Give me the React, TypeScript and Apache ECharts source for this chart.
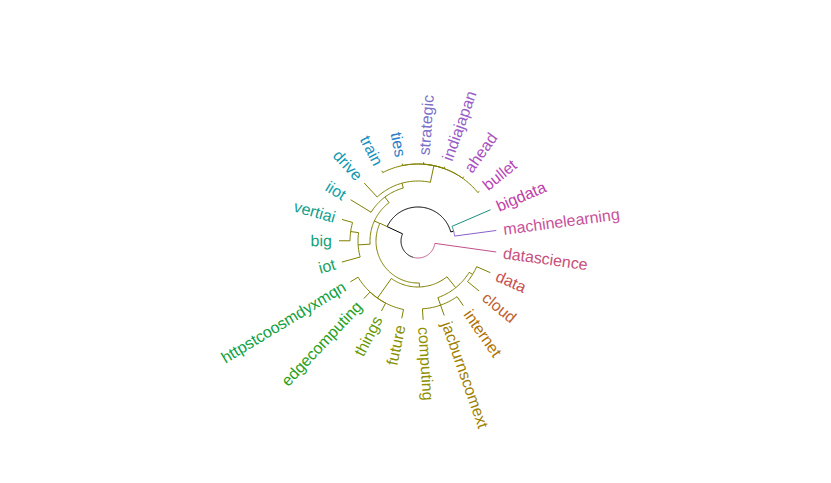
import { useEffect, useRef } from 'react';
import * as echarts from 'echarts';

// leaves, counter-clockwise from the right
const leaves = ['datascience', 'machinelearning', 'bigdata', 'bullet', 'ahead', 'indiajapan', 'strategic', 'ties', 'train', 'drive', 'iiot', 'vertiai', 'big', 'iot', 'httpstcoosmdyxmqn', 'edgecomputing', 'things', 'future', 'computing', 'jacburnscomext', 'internet', 'cloud', 'data'];
const leafColors = ['#c8507a', '#c8509a', '#c040a8', '#b844b8', '#a850c0', '#9a5ec8', '#7a70c8', '#2a80c8', '#1890c0', '#0898b0', '#08a0a8', '#10a090', '#18a078', '#20a060', '#10a040', '#28a020', '#6a9a00', '#8a9000', '#909000', '#a08000', '#b07000', '#c06030', '#c85050'];
const leafParents = ['root', 'MLB', 'MLB', 'Top', 'Top', 'Top', 'Top', 'Top', 'Top', 'A1', 'A2', 'VB', 'VB', 'Left', 'B1', 'B1', 'B1', 'B1', 'C1', 'C1', 'C1', 'C2', 'C2'];

const innerNodes = ['root', 'X', 'MLB', 'O', 'A', 'A2', 'A1', 'Top', 'Left', 'VB', 'B', 'B1', 'B2', 'C1', 'C2'];
const innerParents = [null, 'root', 'X', 'X', 'O', 'A', 'A2', 'A1', 'A', 'Left', 'O', 'B', 'B', 'B2', 'B2'];
const innerRadius = [17, 34, 37, 42, 48, 55, 60, 77, 60, 68, 46, 70, 60, 68, 64];
// fixed angles for a few inner nodes (null = mean of children)
const innerAngles = [null, 155, null, 155, null, null, null, null, null, null, null, null, null, null, null];

const edgeColors: Record<string, string> = {
  X: '#000000', MLB: '#000000', machinelearning: '#8a60c8', bigdata: '#1a9080', datascience: '#c0508a',
};
const OLIVE = '#808000';
const TIP_R = 79;
const LABEL_R = 86;
const START_ANGLE = -8;

type Node = { name: string; parent: string | null; r: number; angle: number; fixed: boolean; children: string[] };

function buildTree() {
  const nodes: Record<string, Node> = {};
  innerNodes.forEach((n, i) => (nodes[n] = { name: n, parent: innerParents[i], r: innerRadius[i], angle: innerAngles[i] ?? 0, fixed: innerAngles[i] != null, children: [] }));
  const step = 360 / leaves.length;
  // datascience sits just below the horizontal, reached through the bottom of the root arc
  leaves.forEach((n, i) => (nodes[n] = { name: n, parent: leafParents[i], r: TIP_R, angle: i === 0 ? START_ANGLE + 360 : START_ANGLE + step * i, fixed: true, children: [] }));
  Object.values(nodes).forEach((n) => n.parent && nodes[n.parent].children.push(n.name));
  const setAngle = (name: string): number => {
    const n = nodes[name];
    const a = n.children.map(setAngle);
    if (!n.fixed && a.length) n.angle = a.reduce((s, v) => s + v, 0) / a.length;
    return n.angle;
  };
  setAngle('root');
  return nodes;
}

export default function App() {
  const ref = useRef<HTMLDivElement>(null);

  useEffect(() => {
    document.body.style.margin = '0';
    if (!ref.current) return;
    const chart = echarts.init(ref.current, undefined, { renderer: 'svg' });
    const nodes = buildTree();
    const edges = Object.values(nodes).filter((n) => n.parent);
    const norm = (a: number) => ((a % 360) + 360) % 360;

    chart.setOption({
      animation: false,
      backgroundColor: '#ffffff',
      polar: { center: [418, 241], radius: 100 },
      radiusAxis: { min: 0, max: 100, show: false },
      angleAxis: { min: 0, max: 360, startAngle: 0, clockwise: false, show: false },
      series: [
        {
          type: 'custom',
          coordinateSystem: 'polar',
          data: edges.map((e) => [e.r, norm(e.angle)]),
          renderItem: (params: any, api: any) => {
            const e = edges[params.dataIndex];
            const p = nodes[e.parent as string];
            const pts: number[][] = [];
            const n = Math.max(2, Math.ceil(Math.abs(e.angle - p.angle) / 1.5));
            for (let k = 0; k <= n; k++) {
              const a = p.angle + ((e.angle - p.angle) * k) / n;
              pts.push(api.coord([p.r, norm(a)]));
            }
            pts.push(api.coord([e.r, norm(e.angle)]));
            return {
              type: 'polyline',
              shape: { points: pts },
              style: { stroke: edgeColors[e.name] || OLIVE, lineWidth: 1, fill: 'none' },
            };
          },
        },
        {
          type: 'custom',
          coordinateSystem: 'polar',
          data: leaves.map((l) => [LABEL_R, norm(nodes[l].angle)]),
          renderItem: (params: any, api: any) => {
            const i = params.dataIndex;
            const a = norm(nodes[leaves[i]].angle);
            const [x, y] = api.coord([LABEL_R, a]);
            const left = a > 90 && a < 270;
            return {
              type: 'text',
              x,
              y,
              rotation: ((left ? a - 180 : a) * Math.PI) / 180,
              style: {
                text: leaves[i],
                fill: leafColors[i],
                font: '16px "Liberation Sans", Arial, sans-serif',
                align: left ? 'right' : 'left',
                verticalAlign: 'middle',
              },
            };
          },
        },
      ],
    });
    return () => chart.dispose();
  }, []);

  return <div ref={ref} style={{ width: 831, height: 483 }} />;
}
